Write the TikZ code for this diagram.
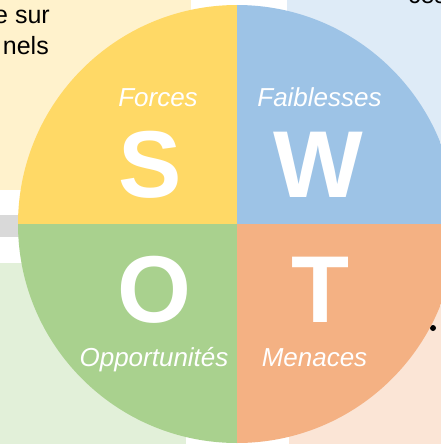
\documentclass[tikz,border=0pt]{standalone}
\usepackage{fontspec}
\setmainfont{Liberation Sans}
\definecolor{cY}{HTML}{FFD966}
\definecolor{cB}{HTML}{9DC3E6}
\definecolor{cG}{HTML}{A9D18E}
\definecolor{cO}{HTML}{F4B183}
\definecolor{bY}{HTML}{FFF2CC}
\definecolor{bB}{HTML}{DEEBF7}
\definecolor{bG}{HTML}{E2F0D9}
\definecolor{bO}{HTML}{FBE5D6}
\definecolor{band}{HTML}{D9D9D9}
\begin{document}
\begin{tikzpicture}[x=1pt,y=-1pt,
  big/.style={text=white,inner sep=0pt,anchor=base,font=\fontsize{95}{100}\selectfont\bfseries},
  lab/.style={text=white,inner sep=0pt,anchor=base,font=\fontsize{26}{30}\selectfont\itshape},
  side/.style={text=black,inner sep=0pt,font=\fontsize{25}{29}\selectfont}]
\useasboundingbox (0,0) rectangle (441,444);
\clip (0,0) rectangle (441,444);
\fill[white] (0,0) rectangle (441,444);
% background boxes
\fill[bY] (0,0) rectangle (191,190);
\fill[bB] (287,0) rectangle (441,190);
\fill[band] (0,215) rectangle (441,237);
\fill[bG] (0,263) rectangle (186,444);
\fill[bO] (289,263) rectangle (441,444);
% side texts
\node[side,anchor=base east] (t1) at (50,24) {e sur};
\node[side,anchor=base east] (t2) at (49,55) {nels};
\node[side,anchor=base west] (t3) at (408,4) {ces};
\fill[black] (433,328) circle[radius=3];
% SWOT circle
\begin{scope}
\clip (237,224) circle[radius=219];
\fill[cY] (0,0) rectangle (237,224);
\fill[cB] (237,0) rectangle (460,224);
\fill[cG] (0,224) rectangle (237,460);
\fill[cO] (237,224) rectangle (460,460);
\end{scope}
\node[big] (S) at (150,197) {S};
\node[big] (W) at (318,197) {W};
\node[big] (O) at (154,322) {O};
\node[big] (T) at (321,322) {T};
\node[lab] (fS) at (158,106) {Forces};
\node[lab] (fW) at (319.5,106) {Faiblesses};
\node[lab] (fO) at (154,366) {Opportunités};
\node[lab] (fT) at (314.5,366) {Menaces};
\end{tikzpicture}
\end{document}
